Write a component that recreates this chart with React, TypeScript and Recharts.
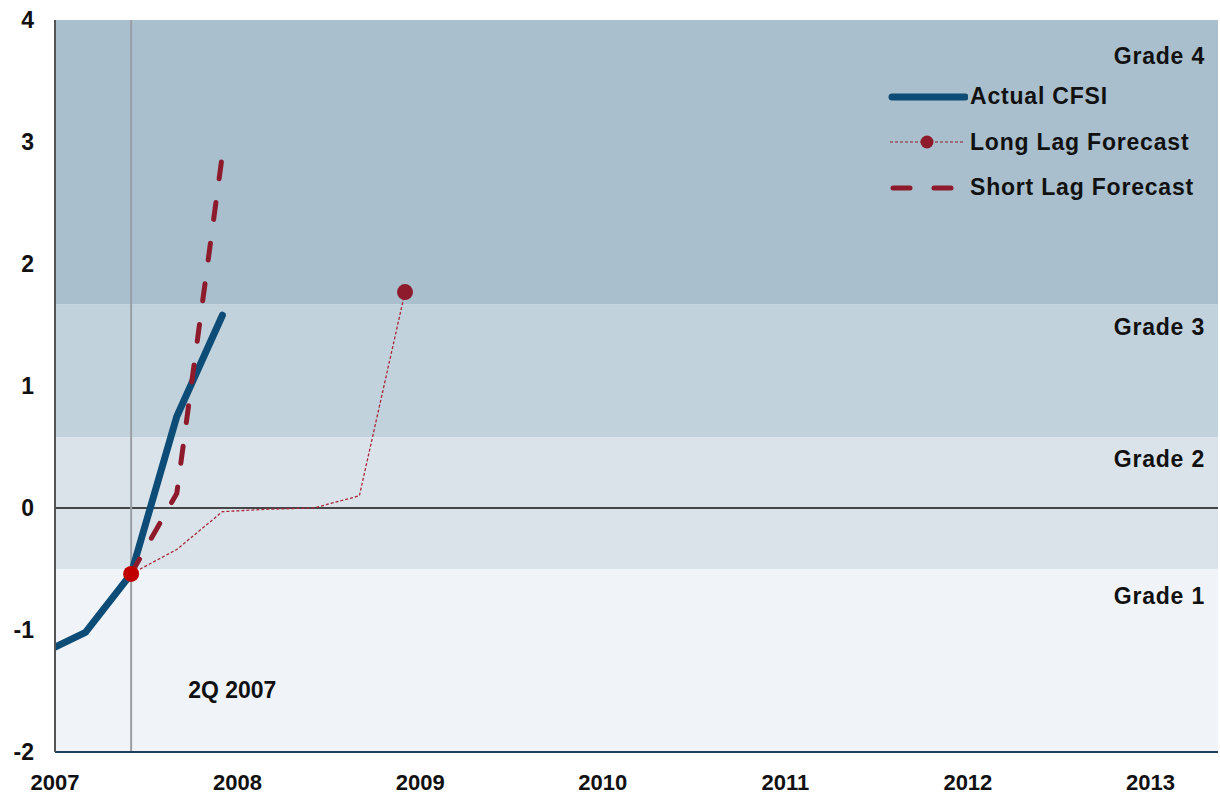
import React from 'react';
import {
  ComposedChart, Line, XAxis, YAxis, ReferenceArea, ReferenceLine, Legend,
} from 'recharts';

// quarter-end positions in fractional years
const actualQuarters = [2006.917, 2007.167, 2007.417, 2007.667, 2007.917];
const actualValues = [-1.2, -1.02, -0.54, 0.75, 1.58];

const shortLagQuarters = [2007.417, 2007.667, 2007.917];
const shortLagValues = [-0.54, 0.12, 2.9];

const longLagQuarters = [2007.417, 2007.667, 2007.917, 2008.167, 2008.417, 2008.667, 2008.917];
const longLagValues = [-0.54, -0.34, -0.03, -0.01, 0, 0.1, 1.77];

const forecastStart = [{ x: 2007.417, y: -0.54 }];

const grades = ['Grade 1', 'Grade 2', 'Grade 3', 'Grade 4'];
const gradeBounds = [-2, -0.5, 0.58, 1.67, 4];
const gradeColors = ['#F0F4F8', '#DAE3EA', '#C1D2DD', '#A9BFCD'];
const gradeLabelDy = [27, 22, 23, 36];

const yearTicks = [2007, 2008, 2009, 2010, 2011, 2012, 2013];
const valueTicks = [-2, -1, 0, 1, 2, 3, 4];

const toPoints = (xs: number[], ys: number[]) => xs.map((x, i) => ({ x, y: ys[i] }));

const actualData = toPoints(actualQuarters, actualValues);
const shortLagData = toPoints(shortLagQuarters, shortLagValues);
const longLagData = toPoints(longLagQuarters, longLagValues);

const FONT = '"Liberation Sans", Arial, sans-serif';
const BLUE = '#0D4C76';
const RED = '#8E1B2C';

const gradeLabel = (text: string, dy: number) => (props: any) => {
  const { x, y, width } = props.viewBox;
  return (
    <text
      x={x + width - 13}
      y={y + dy}
      textAnchor="end"
      dominantBaseline="central"
      fontFamily={FONT}
      fontWeight="bold"
      fontSize={23}
      letterSpacing={0.8}
      fill="#111"
    >
      {text}
    </text>
  );
};

const quarterLabel = (props: any) => {
  const { x, y, height } = props.viewBox;
  return (
    <text
      x={x + 57}
      y={y + height - 62}
      dominantBaseline="central"
      fontFamily={FONT}
      fontWeight="bold"
      fontSize={23}
      fill="#111"
    >
      2Q 2007
    </text>
  );
};

const legendRows = [
  { name: 'Actual CFSI', kind: 'actual' },
  { name: 'Long Lag Forecast', kind: 'long' },
  { name: 'Short Lag Forecast', kind: 'short' },
];

const LegendIcon = ({ kind }: { kind: string }) => (
  <svg width={84} height={20} style={{ display: 'block' }}>
    {kind === 'actual' && (
      <line x1={8} y1={10} x2={81} y2={10} stroke={BLUE} strokeWidth={7} strokeLinecap="round" />
    )}
    {kind === 'long' && (
      <g>
        <line x1={6} y1={10} x2={80} y2={10} stroke={RED} strokeWidth={1} strokeDasharray="3 2" />
        <circle cx={43} cy={10} r={6.5} fill={RED} />
      </g>
    )}
    {kind === 'short' && (
      <line x1={9} y1={10} x2={77} y2={10} stroke={RED} strokeWidth={5} strokeDasharray="17 24" strokeLinecap="round" />
    )}
  </svg>
);

const renderLegend = () => (
  <div style={{ fontFamily: FONT }}>
    {legendRows.map((r) => (
      <div key={r.name} style={{ display: 'flex', alignItems: 'center', height: 45.5 }}>
        <LegendIcon kind={r.kind} />
        <span style={{ marginLeft: 2, fontWeight: 'bold', fontSize: 23, letterSpacing: 0.8, color: '#111' }}>{r.name}</span>
      </div>
    ))}
  </div>
);

const longLagDot = (props: any) => {
  const { cx, cy, index } = props;
  if (index !== longLagData.length - 1) return <g key={`d${index}`} />;
  return <circle key={`d${index}`} cx={cx} cy={cy} r={8} fill={RED} />;
};

const App = () => (
  <div style={{ position: 'absolute', left: 0, top: 0, background: '#fff' }}>
    <ComposedChart
      width={1220}
      height={798}
      margin={{ top: 20, right: 2, left: 0, bottom: 0 }}
    >
      {grades.map((g, i) => (
        <ReferenceArea
          key={g}
          y1={gradeBounds[i]}
          y2={gradeBounds[i + 1]}
          fill={gradeColors[i]}
          fillOpacity={1}
          stroke="none"
          label={gradeLabel(g, gradeLabelDy[i])}
        />
      ))}
      <XAxis
        type="number"
        dataKey="x"
        domain={[2007, 2013.37]}
        ticks={yearTicks}
        allowDataOverflow
        height={46}
        tickSize={0}
        tickMargin={22}
        axisLine={{ stroke: '#1F3F5A', strokeWidth: 2 }}
        tick={{ fill: '#111', fontSize: 22, fontWeight: 'bold', fontFamily: FONT }}
      />
      <YAxis
        type="number"
        dataKey="y"
        domain={[-2, 4]}
        ticks={valueTicks}
        allowDataOverflow
        width={55}
        tickSize={0}
        tickMargin={21}
        axisLine={{ stroke: '#555', strokeWidth: 2 }}
        tick={{ fill: '#111', fontSize: 23, fontWeight: 'bold', fontFamily: FONT }}
      />
      <ReferenceLine y={0} stroke="#111" strokeWidth={1.5} />
      <ReferenceLine x={2007.417} stroke="#9A9FA5" strokeWidth={2} label={quarterLabel} />
      <Legend
        verticalAlign="middle"
        align="center"
        layout="horizontal"
        wrapperStyle={{ top: 74, left: 884, width: 336 }}
        content={renderLegend}
      />
      <Line
        data={longLagData}
        dataKey="y"
        type="linear"
        stroke="#A8283A"
        strokeWidth={1.3}
        strokeDasharray="3 2"
        dot={longLagDot}
        activeDot={false}
        isAnimationActive={false}
        name="Long Lag Forecast"
      />
      <Line
        data={actualData}
        dataKey="y"
        type="linear"
        stroke={BLUE}
        strokeWidth={7}
        strokeLinecap="round"
        strokeLinejoin="round"
        dot={false}
        activeDot={false}
        isAnimationActive={false}
        name="Actual CFSI"
      />
      <Line
        data={shortLagData}
        dataKey="y"
        type="linear"
        stroke={RED}
        strokeWidth={5}
        strokeDasharray="17 24"
        strokeLinecap="round"
        dot={false}
        activeDot={false}
        isAnimationActive={false}
        name="Short Lag Forecast"
      />
      <Line
        data={forecastStart}
        dataKey="y"
        stroke="none"
        dot={{ r: 8, fill: '#C00000', stroke: 'none' }}
        activeDot={false}
        isAnimationActive={false}
        legendType="none"
      />
    </ComposedChart>
  </div>
);

export default App;
